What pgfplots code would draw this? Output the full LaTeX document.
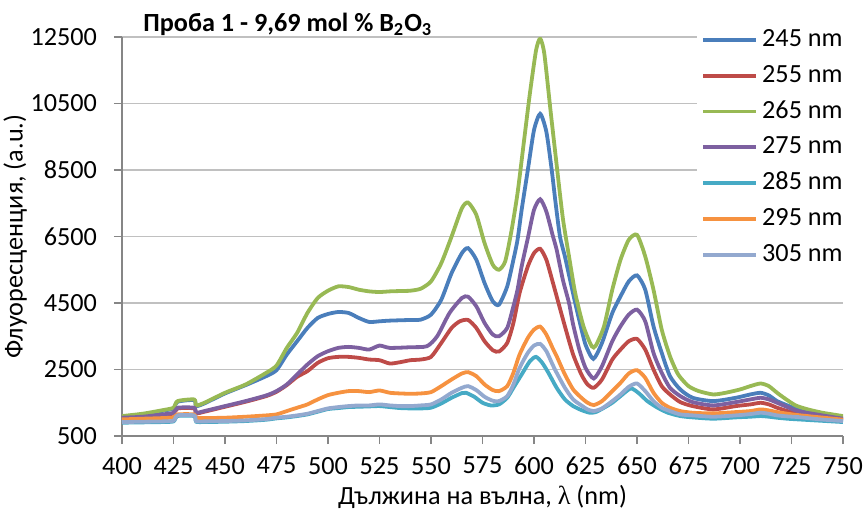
\documentclass[border=0pt]{standalone}
\usepackage{fontspec}
\setmainfont{Carlito}
\newfontfamily\lamfont{Liberation Serif}
\usepackage{pgfplots}
\pgfplotsset{compat=1.18}

\definecolor{c245}{HTML}{4A7EBB}
\definecolor{c255}{HTML}{BE4B48}
\definecolor{c265}{HTML}{98B954}
\definecolor{c275}{HTML}{7D60A0}
\definecolor{c285}{HTML}{46AAC5}
\definecolor{c295}{HTML}{F69240}
\definecolor{c305}{HTML}{93A9CF}
\definecolor{axgray}{HTML}{868686}
\definecolor{gridgray}{HTML}{C0C0C0}

\begin{document}
\begin{tikzpicture}
\begin{axis}[
    scale only axis,
    width=360.5pt, height=199.5pt,
    xmin=400, xmax=750, ymin=500, ymax=12500,
    scaled y ticks=false, scaled x ticks=false,
    xtick={400,425,450,475,500,525,550,575,600,625,650,675,700,725,750},
    xticklabels={400,425,450,475,500,525,550,575,600,625,650,675,700,725,750},
    ytick={500,2500,4500,6500,8500,10500,12500},
    yticklabels={500,2500,4500,6500,8500,10500,12500},
    axis x line*=bottom, axis y line*=left,
    axis line style={draw=axgray, line width=0.7pt},
    tick style={draw=axgray, line width=0.7pt},
    tick align=outside, major tick length=4pt,
    ymajorgrids, grid style={draw=gridgray, line width=0.7pt},
    tick label style={font=\fontsize{13.1}{15}\selectfont},
    yticklabel style={xshift=-5pt},
    xticklabel style={yshift=-3pt},
    label style={font=\fontsize{13.1}{15}\selectfont},
    xlabel={Дължина на вълна, {\lamfont λ} (nm)},
    ylabel={Флуоресценция, (a.u.)},
    ylabel shift={-5pt},
    xlabel shift={-1.5pt},
    legend style={at={(rel axis cs:0.7975,1.035)}, anchor=north west,
        draw=none, fill=white, font=\fontsize{13.1}{15}\selectfont,
        row sep=5.4pt, inner sep=2pt,
        nodes={inner ysep=0pt, text height=9.5pt, text depth=3pt}},
    legend cell align=left,
    legend image code/.code={\draw[#1, line width=1.9pt] (0pt,0pt) -- (26.5pt,0pt);},
    every axis plot/.append style={line width=1.9pt, smooth, tension=0.4},
]
\coordinate (sw) at (rel axis cs:0,0);
\coordinate (ne) at (rel axis cs:1,1);
\coordinate (tl) at (rel axis cs:0,1);

% 245 nm
\addplot[c245] coordinates {
(400,1080) (410,1150) (420,1260) (425,1330) (427,1530) (435,1580) (436,1400) (440,1480)
(450,1780) (460,2030) (470,2300) (475,2480) (480,2950) (485,3350) (490,3750) (495,4050)
(500,4170) (505,4230) (510,4200) (515,4050) (520,3930) (525,3950) (530,3970) (540,3990)
(545,4000) (550,4150) (555,4600) (560,5400) (565,6000) (568,6150) (572,5800) (576,5100)
(580,4550) (583,4450) (587,5000) (590,5800) (592,6400) (594,7300) (597,8500) (600,9700)
(603,10190) (606,9650) (608.6,8500) (610.5,7500) (612.6,6500) (615,5900) (617.5,5200)
(620,4500) (622.3,3900) (625,3250) (628.8,2820) (633,3300) (638,4200) (642,4700)
(646,5150) (650,5330) (654,4900) (658,3800) (662,3000) (666,2300) (671,1900) (677,1650)
(687,1550) (698,1650) (705,1750) (710,1800) (714,1720) (718,1550) (723,1420) (728,1300)
(739,1150) (750,1040)
};
\addlegendentry{245 nm}

% 255 nm
\addplot[c255] coordinates {
(400,1030) (410,1060) (420,1130) (425,1180) (427,1330) (435,1330) (436,1180) (440,1230)
(450,1380) (460,1530) (470,1700) (475,1830) (480,2030) (485,2280) (490,2450) (495,2700)
(500,2840) (505,2880) (510,2880) (515,2850) (520,2800) (525,2780) (530,2680) (535,2720)
(540,2780) (545,2800) (550,2880) (555,3300) (560,3750) (564,3950) (568,3990) (572,3750)
(576,3350) (580,3080) (583,3040) (587,3300) (590,3900) (593,4800) (597,5600) (600,6000)
(603,6130) (606,5800) (609,5150) (611,4700) (615,3800) (619,2950) (623,2350) (626,2050)
(629,1950) (633,2200) (638,2800) (642,3100) (646,3350) (650,3420) (654,3100) (658,2500)
(662,2000) (666,1750) (671,1520) (677,1400) (687,1300) (698,1400) (705,1450) (710,1500)
(714,1450) (718,1350) (723,1250) (728,1180) (739,1080) (750,990)
};
\addlegendentry{255 nm}

% 265 nm
\addplot[c265] coordinates {
(400,1100) (410,1170) (420,1280) (425,1350) (427,1550) (435,1600) (436,1420) (440,1500)
(450,1800) (460,2050) (470,2400) (475,2620) (480,3150) (485,3600) (490,4200) (495,4650)
(500,4870) (505,5000) (510,4980) (515,4900) (520,4850) (525,4830) (530,4850) (535,4860)
(540,4870) (545,4930) (550,5150) (555,5700) (560,6500) (565,7350) (568,7520) (572,7150)
(576,6300) (580,5650) (583,5500) (586,5750) (589,6650) (592,7800) (595,9300) (598,10800)
(601,12100) (603,12450) (605,12000) (608,10300) (611,8650) (614,7050) (617,5900)
(620,4800) (624,3800) (628,3200) (630,3220) (634,3800) (638,4900) (642,5800) (646,6400)
(650,6550) (654,5900) (658,4900) (662,3700) (666,2900) (670,2350) (675,2000) (680,1850)
(687,1750) (693,1800) (700,1900) (705,2000) (710,2080) (714,2000) (718,1800) (722,1620)
(727,1420) (733,1300) (740,1200) (750,1100)
};
\addlegendentry{265 nm}

% 275 nm
\addplot[c275] coordinates {
(400,1050) (410,1080) (420,1150) (425,1200) (427,1350) (435,1350) (436,1200) (440,1250)
(450,1400) (460,1550) (470,1720) (475,1850) (480,2050) (485,2350) (490,2650) (495,2900)
(500,3050) (505,3150) (510,3180) (515,3150) (520,3100) (525,3220) (530,3150) (540,3170)
(548,3200) (553,3500) (559,4200) (565,4650) (568,4690) (572,4400) (576,3900) (580,3550)
(583,3500) (587,3750) (590,4400) (592,4900) (594,5600) (597,6450) (600,7300) (603,7620)
(606,7250) (609,6550) (611,6100) (614,5200) (617,4500) (619,3850) (622,3100) (625,2550)
(629,2230) (633,2600) (638,3350) (642,3800) (646,4150) (650,4300) (654,3950) (658,3000)
(662,2400) (666,1950) (671,1700) (677,1520) (687,1420) (698,1520) (705,1600) (710,1650)
(714,1600) (718,1500) (723,1370) (728,1250) (739,1130) (750,1020)
};
\addlegendentry{275 nm}

% 285 nm
\addplot[c285] coordinates {
(400,900) (410,910) (420,920) (425,940) (427,1100) (435,1100) (436,930) (440,920)
(450,930) (460,950) (470,990) (475,1030) (480,1060) (485,1100) (490,1150) (495,1230)
(500,1310) (505,1340) (510,1370) (515,1380) (520,1390) (525,1400) (530,1370) (535,1340)
(540,1330) (545,1330) (550,1350) (555,1480) (560,1650) (565,1790) (567,1800) (571,1680)
(575,1500) (579,1420) (583,1450) (587,1650) (590,1950) (594,2350) (598,2750) (601,2880)
(604,2700) (607,2400) (611,1950) (615,1600) (619,1400) (623,1280) (627,1200) (630,1220)
(634,1350) (638,1500) (642,1700) (647,1930) (651,1780) (655,1550) (660,1350) (665,1200)
(671,1100) (677,1060) (687,1020) (698,1060) (705,1080) (710,1100) (714,1080) (718,1050)
(723,1020) (728,1000) (739,960) (750,920)
};
\addlegendentry{285 nm}

% 295 nm
\addplot[c295] coordinates {
(400,1000) (410,1020) (420,1040) (425,1060) (427,1150) (435,1150) (436,1050) (440,1040)
(450,1050) (460,1080) (470,1120) (475,1150) (480,1250) (485,1350) (490,1450) (495,1600)
(500,1730) (505,1800) (510,1850) (515,1850) (520,1820) (525,1870) (530,1800) (535,1780)
(540,1770) (545,1780) (550,1820) (555,2000) (560,2200) (565,2380) (568,2420) (572,2300)
(576,2050) (580,1880) (583,1850) (587,2000) (590,2400) (593,2950) (597,3450) (600,3700)
(603,3790) (606,3550) (609,3150) (611,2900) (615,2350) (619,1900) (623,1650) (626,1500)
(629,1430) (633,1550) (638,1850) (642,2100) (646,2380) (650,2480) (654,2250) (658,1800)
(662,1500) (666,1350) (671,1250) (677,1200) (687,1180) (698,1220) (705,1250) (710,1300)
(714,1270) (718,1220) (723,1170) (728,1130) (739,1060) (750,990)
};
\addlegendentry{295 nm}

% 305 nm
\addplot[c305] coordinates {
(400,920) (410,930) (420,940) (425,960) (427,1120) (435,1120) (436,950) (440,940)
(450,950) (460,970) (470,1010) (475,1050) (480,1080) (485,1120) (490,1170) (495,1250)
(500,1330) (505,1370) (510,1400) (515,1420) (520,1420) (525,1450) (530,1420) (535,1400)
(540,1400) (545,1420) (550,1450) (555,1600) (560,1800) (565,1950) (568,2000) (572,1880)
(576,1680) (580,1560) (583,1550) (587,1700) (590,2050) (593,2550) (597,3000) (600,3220)
(603,3270) (606,3050) (609,2650) (611,2400) (615,1950) (619,1600) (623,1420) (626,1300)
(629,1250) (633,1330) (638,1550) (642,1750) (646,1980) (650,2080) (654,1850) (658,1550)
(662,1350) (666,1250) (671,1150) (677,1120) (687,1080) (698,1120) (705,1160) (710,1200)
(714,1170) (718,1120) (723,1090) (728,1070) (739,1000) (750,950)
};
\addlegendentry{305 nm}
\end{axis}
\node[anchor=base west, font=\bfseries\fontsize{13.1}{15}\selectfont, inner sep=0pt]
  at ([xshift=10.5pt,yshift=2.65pt]tl) {Проба 1 - 9,69 mol \% B\textsubscript{2}O\textsubscript{3}};
\pgfresetboundingbox
\path ([shift={(-61pt,-37pt)}]sw) rectangle ([shift={(12pt,18.5pt)}]ne);
\end{tikzpicture}
\end{document}
